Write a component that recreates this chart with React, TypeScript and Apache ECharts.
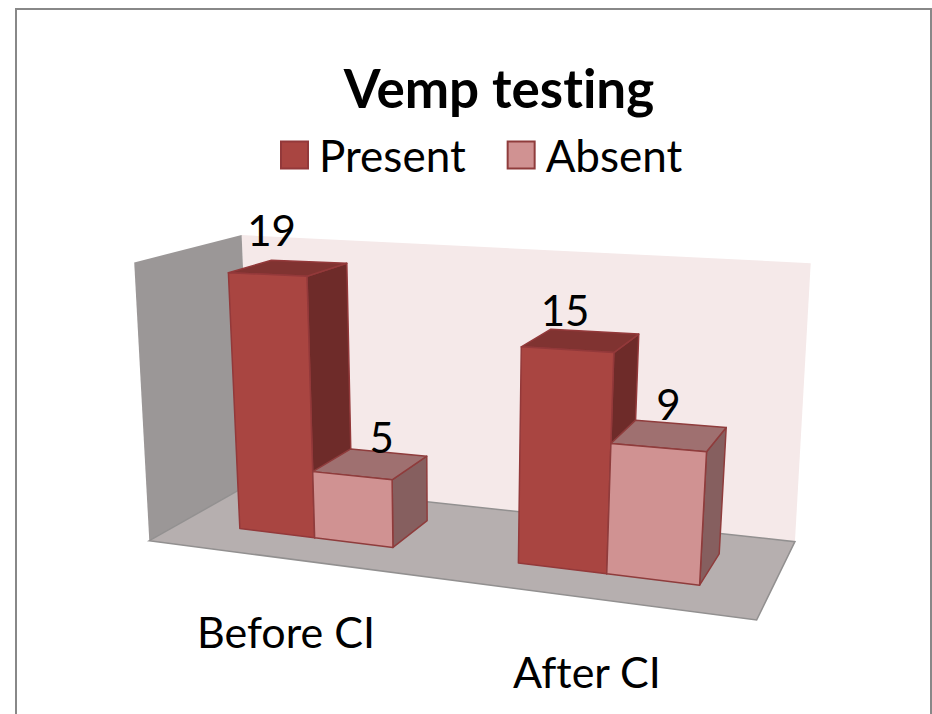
import React, { useEffect, useRef } from "react";
import * as echarts from "echarts";

const categories = ["Before CI", "After CI"];
const seriesNames = ["Present", "Absent"];
const presentValues = [19, 15];
const absentValues = [5, 9];

const presentColors = { front: "#A94541", side: "#6E2B29", top: "#803331", edge: "#93393A" };
const absentColors = { front: "#D09292", side: "#865F5F", top: "#9F7070", edge: "#8F3C3C" };
const FONT = "Lato, Carlito, 'Noto Sans', sans-serif";

// Hidden cartesian system; its unit square is then projected on to the slanted floor.
const GRID = { left: 100, top: 100, width: 600, height: 400 };

// Perspective camera (u along the floor, d into the picture, h upwards)
const CAM = {
  a: 485.3, b: 135.45, c: 149.3,
  d: -20.7, e: 4.74, f: 540.7,
  g: -0.1613, h: 0.13,
  p: -25, q: -292.8, r: -0.055,
};
function project(u: number, d: number, h: number): number[] {
  const w = CAM.g * u + CAM.h * d + 1 + CAM.r * h;
  return [
    (CAM.a * u + CAM.b * d + CAM.c + CAM.p * h) / w,
    (CAM.d * u + CAM.e * d + CAM.f + CAM.q * h) / w,
  ];
}

const BAR_FRONT = 0.303;
const BAR_BACK = 0.72;
const BAR_WIDTH_OF_BAND = 0.285;
const GROUP_SHIFT = 0.005;
const VALUE_LABEL_OFFSET = [
  [[-17, -38], [-16, -30]],
  [[11, -27], [-1, -31]],
];

function barRenderer(seriesIndex: number, colors: typeof presentColors) {
  return (_params: any, api: any) => {
    const cat = api.value(0);
    const val = api.value(1);
    const top = api.coord([cat, val]);
    const base = api.coord([cat, 0]);
    const band = api.size([1, 0])[0];
    const w = (band * BAR_WIDTH_OF_BAND) / GRID.width;
    const center = (base[0] - GRID.left) / GRID.width + GROUP_SHIFT;
    const u0 = center - w + seriesIndex * w;
    const u1 = u0 + w;
    const h = (base[1] - top[1]) / GRID.height;
    const poly = (pts: number[][], fill: string) => ({
      type: "polygon",
      shape: { points: pts },
      style: { fill, stroke: colors.edge, lineWidth: 1.5, lineJoin: "round" },
    });
    const f = BAR_FRONT;
    const b = BAR_BACK;
    const mid = project((u0 + u1) / 2, (f + b) / 2, h);
    const off = VALUE_LABEL_OFFSET[seriesIndex][cat];
    return {
      type: "group",
      children: [
        poly([project(u1, f, 0), project(u1, b, 0), project(u1, b, h), project(u1, f, h)], colors.side),
        poly([project(u0, f, h), project(u1, f, h), project(u1, b, h), project(u0, b, h)], colors.top),
        poly([project(u0, f, 0), project(u1, f, 0), project(u1, f, h), project(u0, f, h)], colors.front),
        {
          type: "text",
          z2: 50,
          style: {
            text: String(val),
            x: mid[0] + off[0],
            y: mid[1] + off[1],
            align: "center",
            verticalAlign: "middle",
            fill: "#000",
            fontSize: 42,
            fontFamily: FONT,
          },
        },
      ],
    };
  };
}

function frameRenderer() {
  const poly = (pts: number[][], fill: string, stroke?: string) => ({
    type: "polygon",
    shape: { points: pts },
    style: { fill, stroke: stroke || "none", lineWidth: 1.5 },
  });
  return {
    type: "group",
    children: [
      poly([project(0, 1, 1), project(0.994, 1, 0.969), project(1, 1, 0), project(0, 1, 0)], "#F5E9E9"),
      poly([project(0.005, 0, 1), project(0, 1, 1), project(0, 1, 0), project(0, 0, 0)], "#9B9797"),
      poly([project(0, 0, 0), project(1, 0, 0), project(1, 1, 0), project(0, 1, 0)], "#B6AFAF", "#929090"),
    ],
  };
}

const CATEGORY_LABEL_POS = [[286, 631], [587, 671]];

function labelRenderer(params: any, api: any) {
  const i = api.value(0);
  return {
    type: "text",
    style: {
      text: categories[i],
      x: CATEGORY_LABEL_POS[i][0],
      y: CATEGORY_LABEL_POS[i][1],
      align: "center",
      verticalAlign: "middle",
      fill: "#000",
      fontSize: 43,
      fontFamily: FONT,
    },
  };
}

export default function App() {
  const ref = useRef<HTMLDivElement>(null);
  useEffect(() => {
    if (!ref.current) return;
    const chart = echarts.init(ref.current, undefined, { renderer: "svg" });
    chart.setOption({
      animation: false,
      backgroundColor: "#fff",
      title: {
        text: "Vemp testing",
        left: 494,
        top: 56,
        textAlign: "center",
        textStyle: { fontSize: 53, fontWeight: "bold", color: "#000", fontFamily: FONT },
      },
      legend: {
        data: seriesNames,
        left: 275,
        top: 128,
        icon: "rect",
        itemWidth: 27,
        itemHeight: 27,
        itemGap: 41,
        textStyle: { fontSize: 44, color: "#000", fontFamily: FONT, padding: [0, 0, 0, 6] },
      },
      grid: { ...GRID },
      xAxis: { type: "category", data: categories, show: false },
      yAxis: { type: "value", min: 0, max: 20.2, show: false },
      graphic: [
        {
          type: "rect",
          z: -1,
          silent: true,
          shape: { x: 16, y: 9, width: 915, height: 730 },
          style: { fill: "none", stroke: "#888", lineWidth: 2 },
        },
      ],
      series: [
        {
          type: "custom",
          name: "frame",
          z: 1,
          silent: true,
          data: [[0, 0]],
          renderItem: frameRenderer,
        },
        {
          type: "custom",
          name: seriesNames[0],
          z: 2,
          data: presentValues.map((v, i) => [i, v]),
          encode: { x: 0, y: 1 },
          itemStyle: { color: presentColors.front, borderColor: presentColors.edge, borderWidth: 1.5 },
          renderItem: barRenderer(0, presentColors),
        },
        {
          type: "custom",
          name: seriesNames[1],
          z: 3,
          data: absentValues.map((v, i) => [i, v]),
          encode: { x: 0, y: 1 },
          itemStyle: { color: absentColors.front, borderColor: absentColors.edge, borderWidth: 1.5 },
          renderItem: barRenderer(1, absentColors),
        },
        {
          type: "custom",
          name: "labels",
          z: 4,
          silent: true,
          data: categories.map((_, i) => [i, 0]),
          encode: { x: 0, y: 1 },
          renderItem: labelRenderer,
        },
      ],
    });
    return () => chart.dispose();
  }, []);
  return (
    <div
      ref={ref}
      style={{ position: "absolute", left: 0, top: 0, width: 932, height: 714, fontVariantLigatures: "none" }}
    />
  );
}
